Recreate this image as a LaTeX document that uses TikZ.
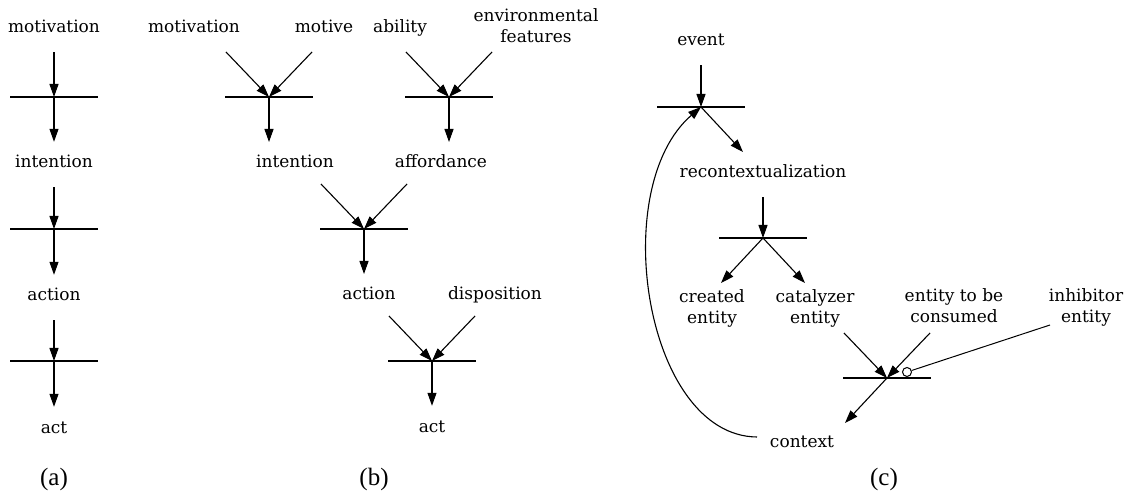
\documentclass[tikz,border=0pt]{standalone}
\usepackage{fontspec}
\setmainfont{DejaVu Serif}
\newfontfamily\capfont{Liberation Serif}
\usetikzlibrary{arrows.meta,calc}

\tikzset{
  lbl/.style={font=\fontsize{17}{21}\selectfont, text height=12pt, text depth=5pt,
    inner xsep=2pt, inner ysep=14pt, anchor=base},
  lbltwo/.style={font=\fontsize{17}{21}\selectfont, align=center, inner sep=0pt, anchor=base},
  bar/.style={fill=black, minimum width=88pt, minimum height=2.5pt, inner sep=0pt},
  arr/.style={-{Triangle[length=13pt,width=9pt]}, line width=1.1pt},
  subcap/.style={font=\capfont\fontsize{25}{28}\selectfont, anchor=base},
}

\begin{document}
\begin{tikzpicture}[x=1pt,y=-1pt]
  \useasboundingbox (0,0) rectangle (1128,494);

  % (a)
  \node[lbl] (amot) at (54,33) {motivation};
  \node[bar] (a1) at (54,97) {};
  \node[lbl] (aint) at (54,168) {intention};
  \node[bar] (a2) at (54,229) {};
  \node[lbl] (aact) at (54,301) {action};
  \node[bar] (a3) at (54,361) {};
  \node[lbl] (aend) at (54,433) {act};
  \draw[arr] (amot) -- (a1.center);
  \draw[arr] (a1.center) -- (aint);
  \draw[arr] (aint) -- (a2.center);
  \draw[arr] (a2.center) -- (aact);
  \draw[arr] (aact) -- (a3.center);
  \draw[arr] (a3.center) -- (aend);

  % (b)
  \node[lbl] (bmot) at (194,33) {motivation};
  \node[lbl] (bmtv) at (324,33) {motive};
  \node[lbl] (babl) at (400,33) {ability};
  \node[lbltwo] (benv) at (536,43) {environmental\\features};
  \node[bar] (b1) at (269,97) {};
  \node[bar] (b2) at (449,97) {};
  \node[lbl] (bint) at (295,168) {intention};
  \node[lbl] (baff) at (441,168) {affordance};
  \node[bar] (b3) at (364,229) {};
  \node[lbl] (bact) at (369,300) {action};
  \node[lbl] (bdsp) at (495,300) {disposition};
  \node[bar] (b4) at (432,361) {};
  \node[lbl] (bend) at (432,432) {act};

  % (c)
  \node[lbl] (cevt) at (701,46) {event};
  \node[bar] (c1) at (701,107) {};
  \node[lbl] (crec) at (763,178) {recontextualization};
  \node[bar] (c2) at (763,238) {};
  \node[lbltwo] (ccre) at (712,324) {created\\entity};
  \node[lbltwo] (ccat) at (815,324) {catalyzer\\entity};
  \node[lbltwo] (ccon) at (954,323) {entity to be\\consumed};
  \node[lbltwo] (cinh) at (1086,323) {inhibitor\\entity};
  \node[bar] (c3) at (887,378) {};
  \node[circle, draw, fill=white, line width=1pt, minimum size=9pt, inner sep=0pt] (c3o) at (907,372) {};
  \node[lbl] (cctx) at (802,447) {context};

  % ends of the slanted arms
  \foreach \g in {b1,b2,b3,b4,c1,c2,c3} {
    \coordinate (\g-nw) at ($(\g)+(-43,-45)$);
    \coordinate (\g-ne) at ($(\g)+(43,-45)$);
    \coordinate (\g-sw) at ($(\g)+(-42,45)$);
    \coordinate (\g-se) at ($(\g)+(42,45)$);
    \coordinate (\g-s) at ($(\g)+(0,45)$);
  }
  \coordinate (cinh-end) at (1050,325);
  \coordinate (cctx-end) at (757,437);

  \foreach \g in {b1,b2,b3,b4,c3} {
    \draw[arr] (\g-nw) -- (\g.center);
    \draw[arr] (\g-ne) -- (\g.center);
  }
  \draw[arr] (b1.center) -- (b1-s);
  \draw[arr] (b2.center) -- (b2-s);
  \draw[arr] (b3.center) -- (b3-s);
  \draw[arr] (b4.center) -- (bend);

  \draw[arr] (cevt) -- (c1.center);
  \draw[arr] (c1.center) -- (c1-se);
  \draw[arr] (crec) -- (c2.center);
  \draw[arr] (c2.center) -- (c2-sw);
  \draw[arr] (c2.center) -- (c2-se);
  \draw[arr] (c3.center) -- (c3-sw);
  \draw[line width=1pt] (cinh-end) -- (c3o);
  \draw[arr] (cctx-end) .. controls (645,436) and (607,188) .. (c1.center);

  \node[subcap] (capa) at (54,485) {(a)};
  \node[subcap] (capb) at (374,485) {(b)};
  \node[subcap] (capc) at (884,485) {(c)};
\end{tikzpicture}
\end{document}
